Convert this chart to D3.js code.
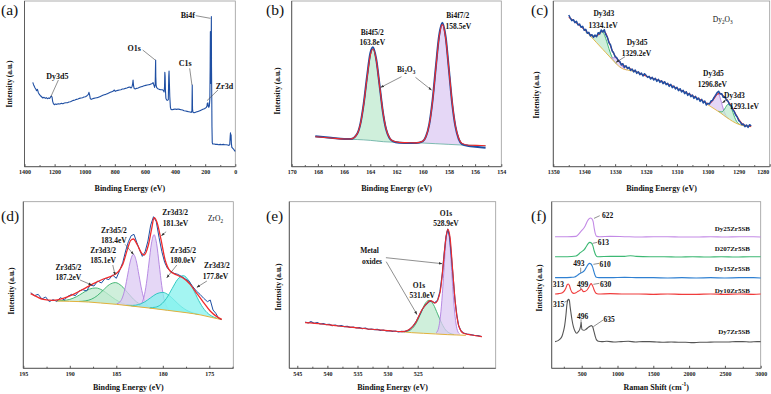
<!DOCTYPE html>
<html>
<head>
<meta charset="utf-8">
<script src="https://cdn.jsdelivr.net/npm/d3@7"></script>
<style>
body { margin: 0; background: #fff; }
text { font-family: "Liberation Serif", "Times New Roman", serif; }
</style>
</head>
<body>
<script>
// ---------- (a) survey ----------
var tickA = [1400,1200,1000,800,600,400,200,0],
    minorA = [1300,1100,900,700,500,300,100];
var surveyA = [[1345,253],[1340,246],[1335,241],[1330,236],[1325,233],[1320,228],[1314,232],[1308,222],[1300,216],[1292,212],[1285,209],[1278,206],[1270,208],[1262,205],[1255,207],[1248,204],[1240,206],[1233,205],[1228,208],[1222,212],[1217,209],[1213,196],[1208,189],[1202,186],[1195,188],[1185,187],[1175,189],[1165,188],[1155,190],[1145,189],[1135,191],[1125,192],[1115,192],[1105,194],[1095,195],[1085,197],[1075,199],[1065,200],[1055,202],[1045,203],[1035,205],[1025,206],[1015,207],[1005,209],[995,210],[985,213],[977,216],[972,223],[968,216],[963,204],[956,202],[948,204],[940,205],[930,206],[920,207],[910,208],[900,210],[890,212],[880,214],[870,216],[860,217],[850,219],[840,221],[830,223],[820,225],[810,227],[803,230],[797,226],[790,228],[780,229],[770,230],[760,231],[750,233],[740,233],[730,235],[720,236],[710,238],[700,239],[692,236],[686,240],[682,248],[679,260],[676,244],[672,235],[665,233],[655,235],[645,236],[635,238],[625,240],[615,241],[605,243],[595,244],[585,245],[575,246],[565,247],[555,249],[546,252],[540,244],[536,238],[532,246],[530,300],[529,320],[528,270],[526,245],[522,237],[515,234],[505,232],[495,231],[485,231],[478,229],[473,224],[470,240],[468,283],[466,272],[464,230],[461,205],[456,200],[450,199],[445,201],[442,270],[440,287],[438,255],[435,210],[431,178],[427,172],[420,171],[410,172],[400,173],[390,172],[380,173],[370,172],[360,171],[350,170],[340,168],[330,167],[320,166],[310,165],[300,164],[292,163],[288,168],[286,245],[284,172],[281,163],[275,162],[265,163],[255,165],[245,166],[235,168],[225,170],[215,172],[205,174],[198,176],[192,178],[188,183],[186,190],[184,182],[182,192],[180,185],[176,178],[172,183],[169,205],[167,300],[165.5,405],[164,380],[162,250],[160.5,330],[159,450],[158,300],[156,190],[155,120],[153,72],[150,68],[140,68],[130,67],[120,67],[110,66],[100,67],[90,66],[80,67],[70,66],[60,66],[50,65],[42,64],[37,66],[34,90],[32,102],[30,80],[28,96],[26,70],[23,58],[18,56],[12,53],[6,49],[3,47],[0,46]];
var labelsA = [["Bi4f",315,455],["O1s",672,355],["C1s",333,310],["Zr3d",72,243],["Dy3d5",1181,272]];
var leadersA = [[263,453,165,445],[615,350,532,320],[303,295,288,245],[115,230,188,198],[1175,260,1225,210]];

// ---------- (b) Bi4f ----------
var tickB = [170,168,166,164,162,160,158,156,154],
    minorB = [169,167,165,163,161,159,157,155];
var bgB = [[168.2,90],[167,86],[166,83],[165.5,82],[165,81.5],[164.5,80.5],[164,79],[163.5,77],[163,75],[162.5,74],[162,73.5],[161,72],[160,71],[159,69],[158,67],[157,65],[156,64],[155.2,63]];
var bi4f52 = [[166,0],[165.5,1],[165,17],[164.75,48],[164.5,107],[164.25,186],[164,255],[163.8,275],[163.55,244],[163.3,170],[163.05,93],[162.8,40],[162.55,14],[162.3,4],[161.8,0]];
var bi4f72 = [[160.5,0],[160,5],[159.75,20],[159.5,56],[159.25,126],[159,225],[158.75,319],[158.5,358],[158.25,319],[158,225],[157.75,126],[157.5,56],[157.25,20],[157,5],[156.5,0]];
var fitB = [[168.2,90],[167,86],[166,83],[165.5,83],[165,98.5],[164.75,129],[164.5,187.5],[164.25,266],[164,334],[163.8,353],[163.55,321],[163.3,246],[163.05,168],[162.8,114.5],[162.55,88],[162.3,77.5],[161.8,73],[161,72],[160.5,71.5],[160,76],[159.75,90.5],[159.5,126],[159.25,195.5],[159,294],[158.75,387.5],[158.5,426],[158.25,386.5],[158,292],[157.75,192.5],[157.5,122],[157.25,85.5],[157,70],[156.5,64.5],[156,64],[155.2,63]];
var rawB = [[168.2,91],[167,87],[166,83],[165.5,83],[165,99],[164.75,130],[164.5,190],[164.25,270],[164,340],[163.8,358],[163.55,323],[163.3,247],[163.05,167],[162.8,113],[162.55,87],[162.3,77],[161.8,72],[161,71],[160.5,71],[160,76],[159.75,91],[159.5,127],[159.25,198],[159,298],[158.75,392],[158.5,432],[158.25,390],[158,292],[157.75,190],[157.5,120],[157.25,83],[157,68],[156.5,62],[156,60],[155.2,57]];
var labelsB = [["Bi4f5/2",163.85,404],["163.8eV",163.85,374],["Bi4f7/2",157.32,455],["158.5eV",157.28,422],["Bi_2O_3",161.26,293]];
var arrowsB = [[161.62,270,163.2,238],[160.55,268,159.33,230]];

// ---------- (c) Dy3d ----------
var tickC = [1350,1340,1330,1320,1310,1300,1290,1280],
    minorC = [1345,1335,1325,1315,1305,1295,1285];
var rawCStart = 1345, rawCStep = 0.5;
var rawC = [455,446,438,441,432,436,425,428,418,421,409,412,400,403,392,396,388,395,390,402,398,410,404,411,396,388,372,366,348,342,330,327,318,316,305,309,298,303,294,298,289,293,284,290,280,285,276,281,272,279,274,268,271,263,268,260,265,256,262,253,258,249,255,246,250,241,247,237,242,233,238,228,234,224,229,219,225,214,220,210,215,205,211,201,206,196,202,191,197,185,190,188,197,199,208,214,222,226,218,219,208,209,200,197,186,184,172,166,155,149,138,134,126,128,120,125,118,126,122];
var fitC = [[1345,448],[1344,442],[1343,435],[1342,428],[1341,420],[1340,412],[1339,403],[1338,396],[1337,391],[1336,392],[1335,400],[1334,407],[1333,400],[1332,375],[1331,350],[1330,332],[1329,320],[1328,308],[1327,302],[1326,297],[1325,293],[1324,288],[1323,284],[1322,280],[1321,276],[1320,272],[1318,266],[1316,259],[1314,252],[1312,244],[1310,235],[1308,226],[1306,217],[1304,208],[1302,199],[1301,194],[1300,189],[1299,193],[1298,204],[1297,217],[1296,220],[1295,212],[1294,202],[1293,190],[1292,175],[1291,158],[1290,142],[1289,130],[1288,124],[1287,122],[1286,121]];
var bgC1 = [[1339,403],[1338,392],[1337,382],[1336,372],[1335,362],[1334,352],[1333,342],[1332,332],[1331,322],[1330,312],[1329,303],[1328,296],[1327,292],[1326,290],[1325,288],[1324,286],[1323,284],[1322,280]];
var bgC2 = [[1301,194],[1300,186],[1299,180],[1298,174],[1297,168],[1296,162],[1295,155],[1294,148],[1293,142],[1292,136],[1291,131],[1290,127],[1289,124],[1288,122],[1287,121],[1286,120]];
var dy3d3a = [[1339.5,0],[1338.5,2],[1337.5,6],[1336.5,14],[1335.5,30],[1334.8,45],[1334.1,52],[1333.4,48],[1332.7,36],[1332,22],[1331.3,10],[1330.5,3],[1329.5,0]];
var dy3d5a = [[1331.5,0],[1331,4],[1330.3,12],[1329.6,17],[1329.2,18],[1328.8,17],[1328.1,12],[1327.4,5],[1326.8,1],[1326.3,0]];
var dy3d5b = [[1300.4,0.6],[1299.8,2.4],[1299.2,7.4],[1298.6,17.9],[1298,33.4],[1297.4,48.5],[1296.8,55],[1296.2,48.5],[1295.6,33.4],[1295,17.9],[1294.4,7.4],[1293.8,2.4],[1293.2,0.6]];
var dy3d3b = [[1296.7,0.5],[1296.1,2],[1295.5,6],[1294.9,14.6],[1294.3,27.3],[1293.7,39.7],[1293.1,45],[1292.5,39.7],[1291.9,27.3],[1291.3,14.6],[1290.7,6],[1290.1,2],[1289.5,0.5]];
var labelsC = [["Dy3d3",1333.65,460],["1334.1eV",1333.9,425],["Dy3d5",1322.9,375],["1329.2eV",1323.1,342],["Dy3d5",1298.2,280],["1296.8eV",1298.55,247],["Dy3d3",1291.4,215],["1293.1eV",1288.2,182]];
var arrowsC = [[1326.8,330,1329.7,313],[1293.45,203,1295.3,192]];

// ---------- (d) Zr3d ----------
var tickD = [195,190,185,180,175],
    minorD = [192.5,187.5,182.5,177.5,172.5];
var rawD = [[194.2,227],[193.8,218],[193.4,222],[193,208],[192.6,214],[192.2,200],[191.8,206],[191.4,201],[191,212],[190.6,205],[190.2,216],[189.8,222],[189.4,218],[189,232],[188.6,236],[188.2,232],[187.8,250],[187.4,247],[187,262],[186.6,256],[186.2,270],[185.8,266],[185.4,280],[185,270],[184.6,296],[184.3,318],[184,352],[183.7,380],[183.4,398],[183.1,402],[182.8,378],[182.5,356],[182.2,336],[181.9,350],[181.6,382],[181.3,430],[181,455],[180.7,440],[180.4,392],[180.1,350],[179.8,318],[179.5,300],[179.2,292],[178.8,285],[178.4,282],[178,276],[177.6,268],[177.2,262],[176.8,246],[176.4,232],[176,222],[175.6,210],[175.2,200],[174.9,205],[174.6,175],[174.3,165],[174,150],[173.7,147]];
var fitD = [[194.21,224],[193.57,215],[192.85,207],[191.77,204],[190.7,210],[189.62,222],[188.54,238],[187.47,254],[186.39,268],[185.49,277],[184.78,290],[184.3,312],[183.77,360],[183.45,384],[183.16,388],[182.73,370],[182.27,345],[182.01,340],[181.55,370],[181.19,420],[180.94,452],[180.65,440],[180.22,390],[179.75,325],[179.22,292],[178.5,280],[177.78,270],[177.06,252],[176.35,225],[175.63,198],[174.91,172],[174.19,155],[173.66,147]];
var bgD = [[191.5,202],[190,201],[188,199],[186.7,196],[185,192],[183.1,186],[181.5,181],[179.5,174],[177.5,167],[175.9,160],[174.8,153],[173.66,146]];
var zr5_187 = [[191.4,0.5],[190.7,1.9],[190,5.9],[189.3,14.3],[188.6,26.7],[187.9,38.8],[187.2,44],[186.5,38.8],[185.8,26.7],[185.1,14.3],[184.4,5.9],[183.7,1.9],[183,0.5]];
var zr3_185 = [[189,0.7],[188.35,2.9],[187.7,8.8],[187.05,21.1],[186.4,39.5],[185.75,57.3],[185.1,65],[184.45,57.3],[183.8,39.5],[183.15,21.1],[182.5,8.8],[181.85,2.9],[181.2,0.7]];
var zr5_183 = [[184.96,1.7],[184.66,6.9],[184.36,21.1],[184.06,50.7],[183.76,94.7],[183.46,137.6],[183.16,156],[182.86,137.6],[182.56,94.7],[182.26,50.7],[181.96,21.1],[181.66,6.9],[181.36,1.7]];
var zr3_181 = [[182.59,2.4],[182.315,9.8],[182.04,30],[181.765,72.2],[181.49,134.8],[181.215,195.8],[180.94,222],[180.665,195.8],[180.39,134.8],[180.115,72.2],[179.84,30],[179.565,9.8],[179.29,2.4]];
var zr5_180 = [[183.9,0.6],[183.25,2.3],[182.6,7],[181.95,16.9],[181.3,31.6],[180.65,45.9],[180,52],[179.35,45.9],[178.7,31.6],[178.05,16.9],[177.4,7],[176.75,2.3],[176.1,0.6]];
var zr3_177 = [[181.4,1.2],[180.8,4.8],[180.2,14.9],[179.6,35.8],[179,66.8],[178.4,97],[177.8,110],[177.2,97],[176.6,66.8],[176,35.8],[175.4,14.9],[174.8,4.8],[174.2,1.2]];
var labelsD = [["Zr3d3/2",178.67,470],["181.3eV",178.64,437],["Zr3d5/2",185.26,415],["183.4eV",185.26,385],["Zr3d3/2",186.42,355],["185.1eV",186.42,325],["Zr3d5/2",190.16,305],["187.2eV",190.16,275],["Zr3d5/2",177.83,355],["180.0eV",177.83,325],["Zr3d3/2",174.19,310],["177.8eV",174.34,278]];
var arrowsD = [[179.64,410,180.15,398],[184.05,372,183.16,342],[185.38,310,185.13,280],[188.9,265,187.64,250],[178.49,310,179.57,272],[175.26,262,176.34,243]];

// ---------- (e) O1s ----------
var tickE = [545,540,535,530,525],
    minorE = [542.5,537.5,532.5,527.5,522.5,517.5];
var rawE = [[543.7,139],[543.2,136],[542.7,140],[542.2,135],[541.7,137],[541.2,133],[540.7,134],[540.2,131],[539.7,132],[539.2,128],[538.7,130],[538.2,127],[537.7,128],[537.2,125],[536.7,126],[536.2,123],[535.7,124],[535.2,121],[534.7,122],[534.2,119],[533.7,121],[533.2,117],[532.7,118],[532.2,116],[531.7,117],[531.2,114],[530.7,115],[530.2,112],[529.7,113],[529.2,111],[528.7,112],[528.2,109],[527.7,111],[527.2,110],[526.7,113],[526.2,119],[525.7,128],[525.2,142],[524.7,160],[524.2,178],[523.7,190],[523.2,199],[522.7,202],[522.2,196],[521.7,204],[521.3,230],[520.9,285],[520.6,345],[520.3,395],[520,418],[519.7,395],[519.4,335],[519.1,270],[518.8,205],[518.5,160],[518.2,128],[517.8,112],[517.4,106],[516.8,103],[516.2,101],[515.6,99],[515,98],[514.4,95]];
var fitE = [[543.7,137],[540.93,133],[538.16,127],[535.39,122],[532.62,117],[529.85,113],[527.63,110],[526.53,115],[525.42,135],[524.31,175],[523.48,195],[522.93,203],[522.09,196],[521.26,230],[520.71,320],[520.32,390],[519.99,417],[519.6,390],[519.21,300],[518.77,200],[518.22,130],[517.39,105],[516,100],[514.34,95]];
var bgE = [[527.7,110],[526,107],[524,105],[522,103],[520,101],[518.5,100],[517,99]];
var o1s531 = [[527.2,1],[526.5,4.4],[525.85,13.5],[525.15,32.5],[524.45,60.7],[523.8,88.2],[523.1,100],[522.4,88.2],[521.7,60.7],[521,32.5],[520.35,13.5],[519.65,4.4],[518.95,1.1]];
var o1s529 = [[521.95,3.5],[521.6,13.8],[521.3,42.4],[520.98,102],[520.65,190.6],[520.33,277],[520,314],[519.67,277],[519.35,190.6],[519.02,102],[518.7,42.4],[518.4,13.8],[518.05,3.5]];
var labelsE = [["O1s",520.3,465],["528.9eV",520.3,435],["Metal",533.0,355],["oxides",532.6,322],["O1s",524.8,250],["531.0eV",524.25,220]];
var arrowsE = [[530.28,332,520.95,314],[530.23,320,525.13,162]];

// ---------- (f) Raman ----------
var tickF = [500,1000,1500,2000,2500,3000],
    minorF = [250,750,1250,1750,2250,2750];
var sampleNames = ["Dy25Zr5SB","D207Zr5SB","Dy15Zr5SB","Dy10Zr5SB","Dy7Zr5SB"];
var sampleLabelY = [417,359,299,233,110];
var dy25 = [[128,395],[300,395],[420,396],[455,402],[490,411],[520,418],[550,428],[580,442],[605,449],[622,451],[640,449],[660,440],[675,420],[690,404],[710,396],[750,395],[900,396],[1100,395],[1300,394],[1500,395],[1700,395],[1900,394],[2100,394],[2300,395],[2500,394],[2700,395],[2900,395],[3000,394]];
var d207 = [[128,335],[300,335],[420,337],[455,342],[480,347],[505,351],[535,356],[560,364],[590,374],[613,378],[635,376],[655,368],[675,352],[695,340],[720,335],[900,336],[1100,336],[1180,338],[1260,336],[1450,335],[1650,335],[1850,334],[2050,335],[2250,334],[2450,335],[2650,334],[2850,335],[3000,335]];
var dy15 = [[128,272],[250,272],[350,273],[400,274],[440,279],[470,284],[493,287],[515,289],[540,294],[565,303],[590,312],[610,315],[630,313],[650,305],[668,292],[685,280],[705,273],[740,272],[900,272],[1100,273],[1300,272],[1500,272],[1700,271],[1900,272],[2100,271],[2300,272],[2500,271],[2700,272],[2900,272],[3000,271]];
var dy10 = [[128,223],[180,224],[230,227],[260,233],[281,242],[298,251],[313,253],[327,249],[345,237],[365,228],[390,225],[420,227],[450,231],[475,234],[490,237],[499,238],[510,233],[530,230],[550,231],[575,235],[600,243],[618,251],[630,254],[645,251],[662,242],[680,232],[700,225],[730,223],[900,224],[1100,223],[1300,223],[1500,222],[1700,223],[1900,222],[2100,222],[2300,223],[2500,222],[2700,223],[2900,222],[3000,223]];
var dy7 = [[128,80],[170,83],[200,88],[225,96],[244,110],[262,128],[280,160],[293,190],[305,204],[315,207],[327,205],[338,185],[351,165],[365,145],[384,125],[405,112],[430,105],[453,110],[472,117],[483,125],[489,133],[493,137],[497,126],[505,116],[533,114],[560,117],[593,123],[615,126],[635,128],[654,124],[672,110],[690,95],[705,86],[733,81],[780,80],[850,81],[950,79],[1050,80],[1150,81],[1250,79],[1350,80],[1450,80],[1550,79],[1650,78],[1750,79],[1850,78],[1950,78],[2050,77],[2150,78],[2250,78],[2350,79],[2450,79],[2550,79],[2650,80],[2750,80],[2850,79],[2950,80],[3000,80]];
var labelsF = [["622",861,459],["613",803,379],["610",826,314],["493",460,315],["313",174,252],["499",514,254],["630",833,254],["315",176,194],["496",512,157],["635",884,149]];
var leadersF = [[672,450,752,458],[652,375,715,378],[663,312,745,315],[486,302,486,287],[486,244,486,237],[663,252,745,255],[258,198,318,205],[491,147,491,135],[663,125,800,145]];

// ================= drawing =================
var svg = d3.select("body").append("svg").attr("width", 771).attr("height", 394);

svg.append("defs").append("marker")
    .attr("id", "arr").attr("viewBox", "0 0 10 10")
    .attr("refX", 9).attr("refY", 5)
    .attr("markerWidth", 6).attr("markerHeight", 6)
    .attr("orient", "auto")
  .append("path").attr("d", "M0,1.5L10,5L0,8.5z").attr("fill", "#333");

var RED = "#f02a2a", BLUE = "#1f4fa3", GOLD = "#e2b13c",
    GREEN = "#35b06a", GREENF = "#bfe9cf",
    PURP = "#b07fe0", PURPF = "#dccaf3",
    CYAN = "#22c4bc", CYANF = "#86f2ee";

function panel(p) {
  var x = d3.scaleLinear().domain(p.xd).range(p.xr),
      y = d3.scaleLinear().domain([0, 500]).range(p.yr);
  var g = svg.append("g");
  var top = y(p.top), bot = p.yr[0];

  g.append("rect")
      .attr("x", p.xr[0]).attr("y", top)
      .attr("width", p.xr[1] - p.xr[0]).attr("height", bot - top)
      .attr("fill", "none").attr("stroke", "#9a9a9a").attr("stroke-width", 0.8);
  g.append("path")
      .attr("d", "M" + p.xr[0] + "," + top + "V" + bot + "H" + p.xr[1])
      .attr("fill", "none").attr("stroke", "#555").attr("stroke-width", 0.9);

  var ax = g.append("g").attr("transform", "translate(0," + bot + ")")
      .call(d3.axisBottom(x).tickValues(p.ticks).tickSize(-2.5).tickPadding(3.5).tickFormat(d3.format("d")));
  ax.select(".domain").remove();
  ax.selectAll("line").attr("stroke", "#555");
  ax.selectAll("text").attr("font-size", 6).attr("font-weight", "bold").attr("fill", "#222");
  // keep a label that would run past the page edge inside it
  ax.selectAll("text").filter(function(d) { return x(d) > 766; }).attr("dx", -7);

  var mx = g.append("g").attr("transform", "translate(0," + bot + ")")
      .call(d3.axisBottom(x).tickValues(p.minor).tickSize(-1.6).tickFormat(""));
  mx.select(".domain").remove();
  mx.selectAll("line").attr("stroke", "#555");

  var xt = g.append("text")
      .attr("x", (p.xr[0] + p.xr[1]) / 2).attr("y", p.xty)
      .attr("text-anchor", "middle").attr("dominant-baseline", "central")
      .attr("font-size", 8).attr("font-weight", "bold").attr("fill", "#111");
  rich(xt, p.xtitle);

  g.append("text")
      .attr("transform", "translate(" + p.ytx + "," + p.yty + ")rotate(-90)")
      .attr("text-anchor", "middle").attr("dominant-baseline", "central")
      .attr("font-size", 7.5).attr("font-weight", "bold").attr("fill", "#111")
      .text("Intensity (a.u.)");

  g.append("text")
      .attr("x", p.lx).attr("y", p.ly)
      .attr("font-size", 15.5).attr("fill", "#111")
      .text(p.letter);

  return {x: x, y: y, g: g};
}

function rich(sel, t) {
  t.split(/(_\d|\^-1)/).forEach(function(s) {
    if (!s) return;
    if (s[0] === "_") sel.append("tspan").attr("baseline-shift", "sub").attr("font-size", "70%").text(s.slice(1));
    else if (s[0] === "^") sel.append("tspan").attr("baseline-shift", "super").attr("font-size", "70%").text(s.slice(1));
    else sel.append("tspan").text(s);
  });
}

function line(pn, data, color, w, curve) {
  pn.g.append("path").datum(data)
      .attr("d", d3.line().x(function(d) { return pn.x(d[0]); })
                          .y(function(d) { return pn.y(d[1]); })
                          .curve(curve || d3.curveMonotoneX))
      .attr("fill", "none").attr("stroke", color).attr("stroke-width", w)
      .attr("stroke-linejoin", "round");
}

function peak(pn, bg, data, stroke, fill) {
  var bgAt = d3.scaleLinear().domain(bg.map(function(d) { return d[0]; }))
      .range(bg.map(function(d) { return d[1]; })).clamp(true);
  var area = d3.area()
      .x(function(d) { return pn.x(d[0]); })
      .y0(function(d) { return pn.y(bgAt(d[0])); })
      .y1(function(d) { return pn.y(bgAt(d[0]) + d[1]); })
      .curve(d3.curveMonotoneX);
  pn.g.append("path").datum(data).attr("d", area)
      .attr("fill", fill).attr("fill-opacity", 0.75).attr("stroke", "none");
  pn.g.append("path").datum(data).attr("d", area.lineY1())
      .attr("fill", "none").attr("stroke", stroke).attr("stroke-width", 0.9);
}

function labels(pn, list, size, weight, anchor) {
  list.forEach(function(l) {
    var t = pn.g.append("text")
        .attr("x", pn.x(l[1])).attr("y", pn.y(l[2]))
        .attr("text-anchor", anchor || "middle").attr("dominant-baseline", "central")
        .attr("font-size", size).attr("font-weight", weight).attr("fill", "#111");
    rich(t, l[0]);
  });
}

function leaders(pn, list, arrow) {
  list.forEach(function(l) {
    var s = pn.g.append("line")
        .attr("x1", pn.x(l[0])).attr("y1", pn.y(l[1]))
        .attr("x2", pn.x(l[2])).attr("y2", pn.y(l[3]))
        .attr("stroke", "#444").attr("stroke-width", 0.6);
    if (arrow) s.attr("marker-end", "url(#arr)");
  });
}

// ---- (a)
var pa = panel({xd: [1400, 0], xr: [24.5, 235.3], yr: [166.7, 0], top: 497,
  ticks: tickA, minor: minorA, xtitle: "Binding Energy (eV)", xty: 188,
  ytx: 9.5, yty: 84, letter: "(a)", lx: 1, ly: 15});
line(pa, surveyA, BLUE, 1.1, d3.curveLinear);
leaders(pa, leadersA, false);
labels(pa, labelsA, 8, "bold");

// ---- (b)
var pb = panel({xd: [170, 154], xr: [291.7, 501.3], yr: [166.7, 0], top: 497,
  ticks: tickB, minor: minorB, xtitle: "Binding Energy (eV)", xty: 188,
  ytx: 277.7, yty: 91, letter: "(b)", lx: 266, ly: 15});
peak(pb, bgB, bi4f52, GREEN, GREENF);
peak(pb, bgB, bi4f72, PURP, PURPF);
line(pb, bgB, "#6fb3a8", 0.9);
line(pb, rawB, BLUE, 2);
line(pb, fitB, RED, 1.1);
labels(pb, labelsB, 7.5, "bold");
leaders(pb, arrowsB, true);

// ---- (c)
var pc = panel({xd: [1350, 1280], xr: [553.3, 769.7], yr: [166.7, 0], top: 497,
  ticks: tickC, minor: minorC, xtitle: "Binding Energy (eV)", xty: 188,
  ytx: 536.7, yty: 95, letter: "(c)", lx: 531, ly: 15});
peak(pc, bgC1, dy3d3a, GREEN, GREENF);
peak(pc, bgC1, dy3d5a, PURP, PURPF);
peak(pc, bgC2, dy3d5b, PURP, PURPF);
peak(pc, bgC2, dy3d3b, GREEN, GREENF);
line(pc, bgC1, GOLD, 0.9);
line(pc, bgC2, GOLD, 0.9);
line(pc, fitC, RED, 1.1);
line(pc, rawC.map(function(v, i) { return [rawCStart - i * rawCStep, v]; }), BLUE, 1.5, d3.curveLinear);
labels(pc, labelsC, 7.5, "bold");
labels(pc, [["Dy_2O_3", 1295.2, 443]], 7.5, "normal");
leaders(pc, arrowsC, true);

// ---- (d)
var pd = panel({xd: [195, 172.42], xr: [23.3, 233.3], yr: [368.3, 201.7], top: 500,
  ticks: tickD, minor: minorD, xtitle: "Binding Energy (eV)", xty: 386.5,
  ytx: 11.7, yty: 291, letter: "(d)", lx: 1, ly: 221});
peak(pd, bgD, zr5_187, GREEN, GREENF);
peak(pd, bgD, zr3_185, GREEN, GREENF);
peak(pd, bgD, zr5_183, PURP, PURPF);
peak(pd, bgD, zr3_181, PURP, PURPF);
peak(pd, bgD, zr5_180, CYAN, CYANF);
peak(pd, bgD, zr3_177, CYAN, CYANF);
line(pd, bgD, GOLD, 1);
line(pd, rawD, BLUE, 1, d3.curveLinear);
line(pd, fitD, RED, 1.3);
labels(pd, labelsD, 7.5, "bold");
labels(pd, [["ZrO_2", 174.34, 450]], 7.5, "normal");
leaders(pd, arrowsD, true);

// ---- (e)
var pe = panel({xd: [546.33, 512.04], xr: [289.3, 495.7], yr: [368.3, 201.7], top: 500,
  ticks: tickE, minor: minorE, xtitle: "Binding Energy (eV)", xty: 386.5,
  ytx: 278.3, yty: 287, letter: "(e)", lx: 266, ly: 221});
peak(pe, bgE, o1s531, GREEN, GREENF);
peak(pe, bgE, o1s529, PURP, PURPF);
line(pe, bgE, GOLD, 1);
line(pe, rawE, BLUE, 1.2, d3.curveLinear);
line(pe, fitE, RED, 1.1);
labels(pe, labelsE, 7.5, "bold");
leaders(pe, arrowsE, true);

// ---- (f)
var pf = panel({xd: [81, 3000], xr: [551.7, 760.7], yr: [368.3, 201.7], top: 500,
  ticks: tickF, minor: minorF, xtitle: "Raman Shift (cm^-1)", xty: 386.5,
  ytx: 539.3, yty: 288, letter: "(f)", lx: 531, ly: 221});
var series = [dy25, d207, dy15, dy10, dy7],
    colors = ["#c38ae6", "#3cb873", "#2f80d2", "#f03c3c", "#555555"];
series.forEach(function(s, i) { line(pf, s, colors[i], 1.1); });
leaders(pf, leadersF, false);
labels(pf, labelsF, 7.5, "bold");
labels(pf, sampleNames.map(function(n, i) { return [n, 2851, sampleLabelY[i]]; }), 7, "bold", "end");
</script>
</body>
</html>
